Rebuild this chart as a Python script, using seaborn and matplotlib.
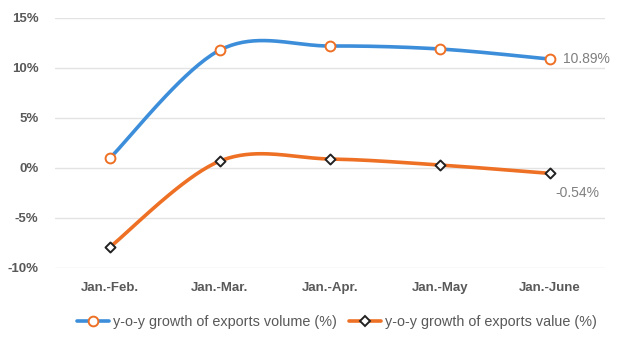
import numpy as np
import pandas as pd
import matplotlib
matplotlib.use("Agg")
import matplotlib.pyplot as plt
import seaborn as sns
from matplotlib.lines import Line2D

categories = ["Jan.-Feb.", "Jan.-Mar.", "Jan.-Apr.", "Jan.-May", "Jan.-June"]
volume = [1.0, 11.8, 12.2, 11.9, 10.89]
value = [-7.9, 0.7, 0.9, 0.3, -0.54]
yticks = [-10, -5, 0, 5, 10, 15]
series_names = ["y-o-y growth of exports volume (%)", "y-o-y growth of exports value (%)"]

sns.set_theme(style="white")
plt.rcParams['font.family'] = ['Liberation Sans', 'DejaVu Sans']

BLUE = "#3D8EDA"
ORANGE = "#EE7024"
GREY = "#595959"


def smooth(y, n=40):
    """Excel-like Catmull-Rom (1/6 tension) bezier smoothing."""
    x = np.arange(len(y), dtype=float)
    y = np.asarray(y, dtype=float)
    P = np.column_stack([x, y])
    xs, ys = [], []
    for i in range(len(P) - 1):
        p0 = P[i - 1] if i > 0 else P[i]
        p1, p2 = P[i], P[i + 1]
        p3 = P[i + 2] if i + 2 < len(P) else P[i + 1]
        c1 = p1 + (p2 - p0) / 6.0
        c2 = p2 - (p3 - p1) / 6.0
        t = np.linspace(0, 1, n)[:, None]
        pts = ((1 - t) ** 3) * p1 + 3 * ((1 - t) ** 2) * t * c1 + 3 * (1 - t) * t ** 2 * c2 + t ** 3 * p2
        xs.append(pts[:, 0])
        ys.append(pts[:, 1])
    return np.concatenate(xs), np.concatenate(ys)


fig = plt.figure(figsize=(6.2, 3.51), dpi=100)
ax = fig.add_axes([55 / 620, 1 - 268 / 351, 550 / 620, 250 / 351])

for vals, col in [(volume, BLUE), (value, ORANGE)]:
    sx, sy = smooth(vals)
    sns.lineplot(x=sx, y=sy, ax=ax, color=col, linewidth=2.6, sort=False, estimator=None)

pos = np.arange(len(categories))
sns.scatterplot(x=pos, y=volume, ax=ax, marker="o", s=50, facecolor="white",
                edgecolor=ORANGE, linewidth=1.4, zorder=5)
sns.scatterplot(x=pos, y=value, ax=ax, marker="D", s=26, facecolor="white",
                edgecolor="#222222", linewidth=1.4, zorder=5)

ax.set_xlim(-0.5, len(categories) - 0.5)
ax.set_ylim(-10, 15)
ax.set_yticks(yticks)
ax.set_yticklabels([f"{t}%" for t in yticks], fontsize=9.5, color=GREY, fontweight="bold")
ax.set_xticks(pos)
ax.set_xticklabels(categories, fontsize=9.5, color=GREY, fontweight="bold")
ax.tick_params(axis="both", length=0, pad=12)
ax.tick_params(axis="x", pad=10)
ax.grid(axis="y", color="#e3e3e3", linewidth=1)
for s in ax.spines.values():
    s.set_visible(False)

ax.text(pos[-1] + 0.12, volume[-1], f"{volume[-1]:.2f}%", color="#7f7f7f",
        fontsize=10, va="center", ha="left")
ax.text(pos[-1] + 0.05, value[-1] - 2.0, f"{value[-1]:.2f}%", color="#7f7f7f",
        fontsize=10, va="center", ha="left")

handles = [
    Line2D([0], [0], color=BLUE, lw=2.6, marker="o", markersize=7,
           markerfacecolor="white", markeredgecolor=ORANGE, markeredgewidth=1.4),
    Line2D([0], [0], color=ORANGE, lw=2.6, marker="D", markersize=5,
           markerfacecolor="white", markeredgecolor="#222222", markeredgewidth=1.4),
]
fig.legend(handles, series_names, loc="center", bbox_to_anchor=(337 / 620, 1 - 322 / 351),
           ncol=2, frameon=False, fontsize=10.4, handlelength=2.2, handletextpad=0.3,
           columnspacing=0.8, labelcolor=GREY)

fig.savefig("out.png", dpi=100)
